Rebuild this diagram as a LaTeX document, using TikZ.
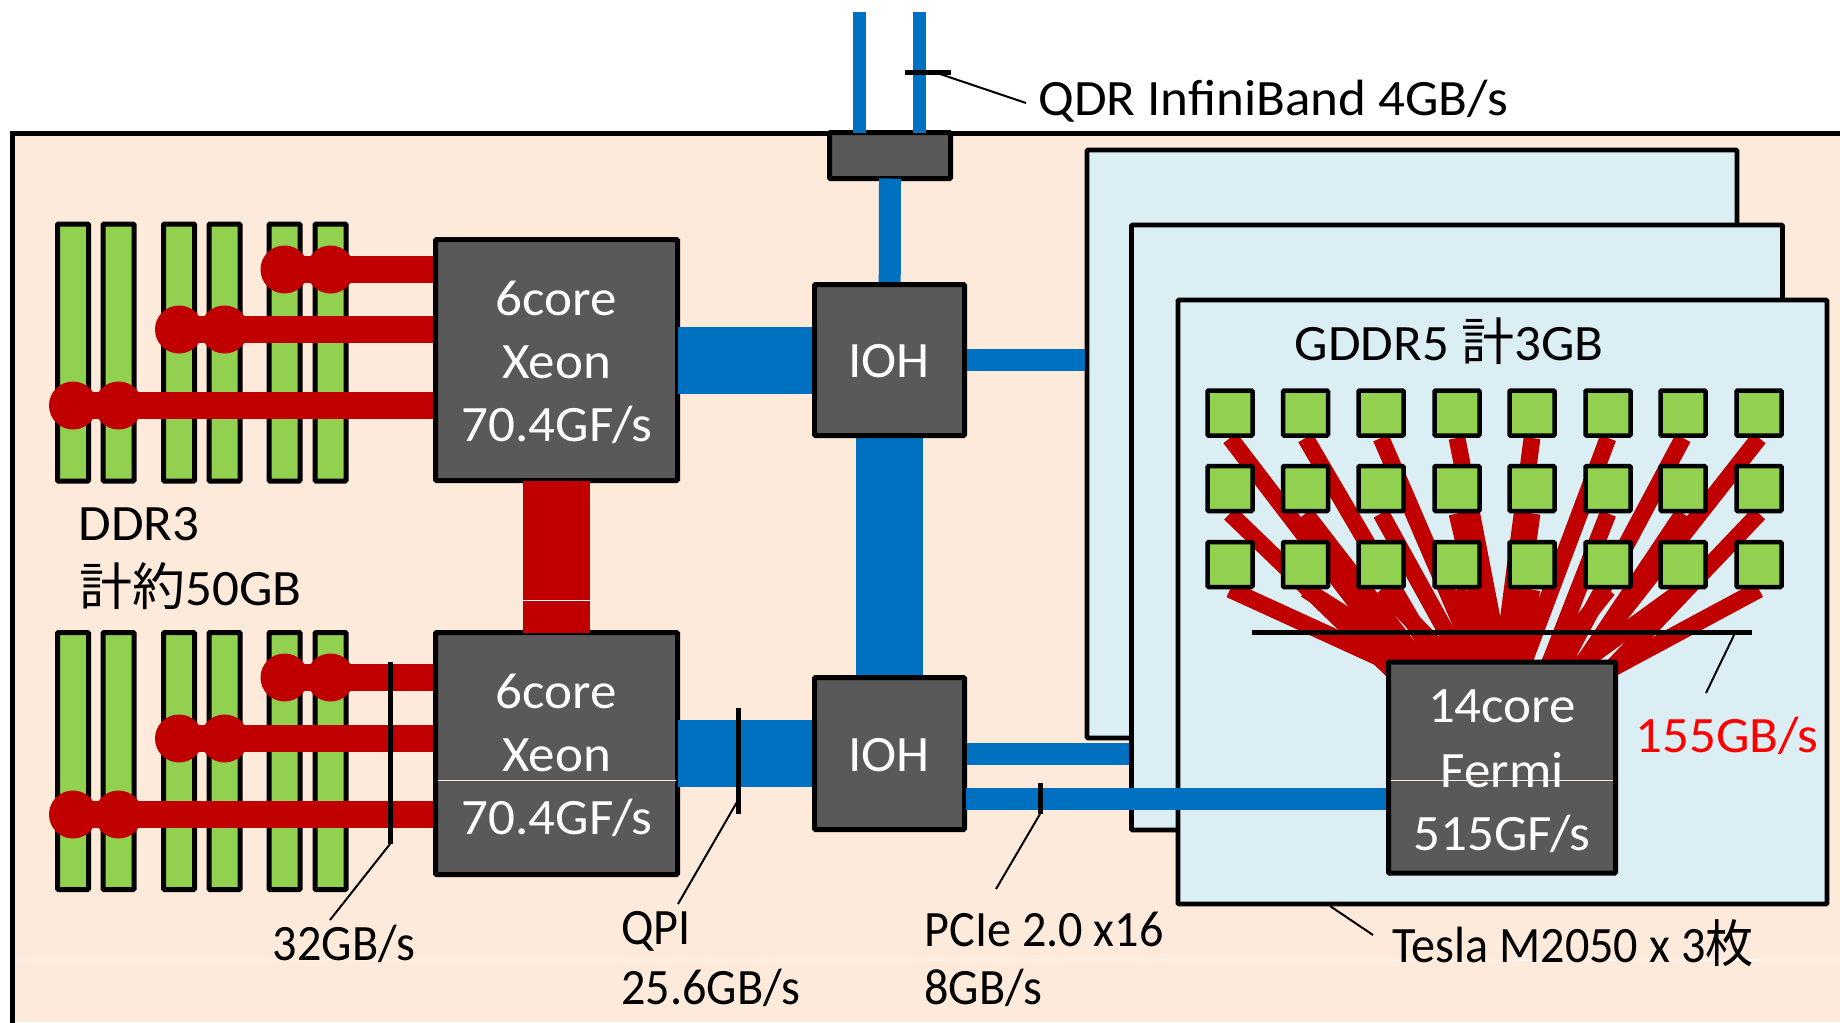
\documentclass[tikz,border=0pt]{standalone}
\usepackage{fontspec}
\setmainfont[FakeStretch=1.04]{Carlito}
\newfontfamily\narrowfont[FakeStretch=0.945]{Carlito}
\newfontfamily\cjk[FakeStretch=1.04]{Noto Sans CJK JP}
\newfontfamily\narrowcjk[FakeStretch=0.945]{Noto Sans CJK JP}
\definecolor{peach}{HTML}{FDEADA}
\definecolor{paleblue}{HTML}{DBEEF4}
\definecolor{chipgrey}{HTML}{595959}
\definecolor{memgreen}{HTML}{92D050}
\definecolor{linkred}{HTML}{C00000}
\definecolor{linkblue}{HTML}{0070C0}
\definecolor{seam}{HTML}{FFF4EC}
\pgfdeclarelayer{back}
\pgfdeclarelayer{mid}
\pgfsetlayers{back,mid,main}
\tikzset{
  px/.style 2 args={minimum width=#1*0.5pt,minimum height=#2*0.5pt},
  hw/.style={draw=black,line width=2.5pt,rounded corners=0.5pt,inner sep=0pt,outer sep=0pt},
  chip/.style={hw,fill=chipgrey},
  cardbox/.style={hw,fill=paleblue,line width=2.4pt},
  dimm/.style={hw,fill=memgreen,px={31}{257}},
  gddr/.style={hw,fill=memgreen,line width=2.25pt,px={45}{45}},
  dot/.style={circle,fill=linkred,inner sep=0pt,outer sep=0pt,minimum size=24pt},
  memlink/.style={linkred,line width=13.5pt},
  fan/.style={linkred,line width=8.4pt},
  qpi/.style={line width=33.5pt},
  pcie/.style={linkblue,line width=11pt},
  ib/.style={linkblue,line width=6.5pt},
  tick/.style={black,line width=2.5pt},
  leader/.style={black,line width=1pt},
  seamline/.style={seam,line width=0.6pt},
  chiptext/.style={text=white,font=\fontsize{25.5pt}{28pt}\selectfont,inner sep=0pt},
  lbl/.style={text=black,font=\fontsize{25.5pt}{28pt}\selectfont,inner sep=0pt},
  lblL/.style={lbl,anchor=west},
  lblN/.style={lblL,font=\fontsize{25.5pt}{28pt}\selectfont\narrowfont},
}
\begin{document}
\begin{tikzpicture}[x=0.5pt,y=-0.5pt]
\useasboundingbox (0,0) rectangle (1840,1022);
\begin{pgfonlayer}{back}
\fill[white] (0,0) rectangle (1840,1022);
% enclosure
\fill[peach] (12.5,133) rectangle (1840,1022);
\draw[black,line width=2.5pt] (12.5,1030) -- (12.5,133) -- (1850,133);
\draw[seamline] (15,960) -- (1840,960);
% Tesla cards
\node[cardbox,px={650}{588}] (card1) at (1412,444) {};
\node[cardbox,px={651}{605}] (card2) at (1457,527.5) {};
\node[cardbox,px={649}{604}] (card3) at (1502.5,602) {};
\end{pgfonlayer}
% DIMMs
\foreach \n/\x in {a/73,b/118.5,c/179,d/224.5,e/284.5,f/330.5}{
  \node[dimm] (top\n) at (\x,352.5) {};
  \node[dimm] (bot\n) at (\x,761) {};
}
% memory links, under the CPU borders
\coordinate (cpuA) at (556.5,360);
\coordinate (cpuB) at (556.5,753.5);
\foreach \bank/\ya/\yb/\yc in {t/269.5/329.5/405.5, u/677.5/738.5/814.5}{
  \node[dot] (\bank1) at (284.5,\ya) {};
  \node[dot] (\bank2) at (330.5,\ya) {};
  \node[dot] (\bank3) at (179,\yb) {};
  \node[dot] (\bank4) at (224.5,\yb) {};
  \node[dot] (\bank5) at (73,\yc) {};
  \node[dot] (\bank6) at (118.5,\yc) {};
  \coordinate (\bank E) at (480,\ya);
  \draw[memlink] (\bank1.center) -- (\bank E);
  \draw[memlink] (\bank3.center) -- (\bank3.center -| \bank E);
  \draw[memlink] (\bank5.center) -- (\bank5.center -| \bank E);
}
% chips
\node[chip,px={242}{241}] (cpu1) at (cpuA) {};
\node[chip,px={242}{242}] (cpu2) at (cpuB) {};
\node[chip,px={121}{46}] (sw) at (890,155.5) {};
\coordinate (iohA) at (889.5,360);
\coordinate (iohB) at (889.5,753.5);
% inter-chip links
\draw[qpi,linkred] (cpu1.south) -- (cpu2.north);
\draw[white,line width=0.6pt] ([xshift=-16.75pt,yshift=16pt]cpu2.north) -- ([xshift=16.75pt,yshift=16pt]cpu2.north);
\draw[qpi,linkblue] (cpu1.east) -- (iohA);
\draw[qpi,linkblue] (cpu2.east) -- (iohB);
\draw[qpi,linkblue] (iohA) -- (iohB);
\draw[linkblue,line width=11pt] (sw.south) -- (iohA);
\node[chip,px={150}{151}] (ioh1) at (iohA) {};
\node[chip,px={150}{152}] (ioh2) at (iohB) {};
% InfiniBand
\coordinate (ibA) at (859.5,12);
\coordinate (ibB) at (919.5,12);
\draw[ib] (ibA) -- (ibA |- sw.north);
\draw[ib] (ibB) -- (ibB |- sw.north);
% PCIe
\draw[pcie,shorten <=1.25pt,shorten >=1.2pt] (ioh1.east) -- (ioh1.east -| card1.west);
\draw[pcie,shorten <=1.25pt,shorten >=1.2pt] (ioh2.east) -- (ioh2.east -| card2.west);
% GDDR5 memory
\foreach \r/\y in {1/413,2/488.5,3/564.5}{
  \foreach \c/\x in {1/1230,2/1305.5,3/1381,4/1457,5/1532,6/1608,7/1683,8/1759}{
    \node[gddr] (sq-\r-\c) at (\x,\y) {};
  }
}
\node[chip,px={227}{211}] (fermi) at (1502,767.5) {};
\coordinate (pcieL) at (966,799);
\draw[pcie,shorten >=1.2pt] (pcieL) -- (pcieL -| fermi.west);
% GDDR5 fan-out, under the memory squares and Fermi
\begin{pgfonlayer}{mid}
\foreach \r/\c/\t in {1/1/1411,1/2/1444,1/3/1483,1/4/1503,1/5/1501,1/6/1519,1/7/1557,1/8/1573,
  2/1/1397,2/2/1430,2/3/1470,2/4/1495,2/5/1510,2/6/1545,2/7/1575,2/8/1605,
  3/1/1417,3/2/1440,3/3/1465,3/4/1490,3/5/1515,3/6/1540,3/7/1565,3/8/1600}{
  \draw[fan] ([yshift=-1.25pt]sq-\r-\c.south) -- ([xshift={(\t-1388.5)*0.5pt},yshift=-6.5pt]fermi.north west);
}
\end{pgfonlayer}
% seams in the chips
\draw[peach,line width=0.5pt] ([xshift=-55.5pt,yshift=-6.25pt]fermi.center) -- ([xshift=55.5pt,yshift=-6.25pt]fermi.center);
\draw[peach,line width=0.5pt] ([xshift=-59.5pt,yshift=-13.25pt]cpu2.center) -- ([xshift=59.5pt,yshift=-13.25pt]cpu2.center);
% ticks and leaders
\coordinate (t1a) at (1252,632); \coordinate (t1b) at (1752,632);
\coordinate (l1) at (1706,693);
\draw[tick] (t1a) -- (t1b);
\draw[leader] (1735,633) -- (l1);
\coordinate (t2a) at (390,662); \coordinate (t2b) at (390,844); \coordinate (l2) at (330,920);
\draw[tick] (t2a) -- (t2b);
\draw[leader] (t2b) -- (l2);
\coordinate (t3a) at (738,708); \coordinate (t3b) at (738,814); \coordinate (l3) at (678,904);
\draw[tick] (t3a) -- (t3b);
\draw[leader] (737,802) -- (l3);
\coordinate (t4a) at (905,72.5); \coordinate (t4b) at (951,72.5); \coordinate (l4) at (1026,103);
\draw[tick] (t4a) -- (t4b);
\draw[leader] (940,74) -- (l4);
\coordinate (t5a) at (1040,783); \coordinate (t5b) at (1040,814); \coordinate (l5) at (996,889);
\draw[tick] (t5a) -- (t5b);
\draw[leader] (t5b) -- (l5);
\coordinate (l6a) at (1330,906); \coordinate (l6b) at (1373,935);
\draw[leader] (l6a) -- (l6b);
% chip text
\node[chiptext] (c1a) at (556.5,298) {6core};
\node[chiptext] (c1b) at (556.5,362) {Xeon};
\node[chiptext] (c1c) at (557,425) {70.4GF/s};
\node[chiptext] (c2a) at (556.5,691) {6core};
\node[chiptext] (c2b) at (556.5,755) {Xeon};
\node[chiptext] (c2c) at (557,818) {70.4GF/s};
\node[chiptext] (i1) at (889,361) {IOH};
\node[chiptext] (i2) at (889,755) {IOH};
\node[chiptext] (f1) at (1502,706) {14core};
\node[chiptext] (f2) at (1502,770) {Fermi};
\node[chiptext] (f3) at (1502,834) {515GF/s};
% labels
\node[lbl] (gddrlbl) at (1449,341) {GDDR5 {\cjk 計}3GB};
\node[lblL] (ddr1) at (78,524.5) {DDR3};
\node[lblL] (ddr2) at (79,586) {{\cjk 計約}50GB};
\node[lblL] (qdr) at (1038,101) {QDR InfiniBand 4GB/s};
\node[lblN,anchor=center] (g32) at (344,944) {32GB/s};
\node[lblN] (qpi1) at (621,931) {QPI};
\node[lblN] (qpi2) at (621,988) {25.6GB/s};
\node[lblN] (pc1) at (924,929) {PCIe 2.0 x16};
\node[lblN] (pc2) at (924,988) {8GB/s};
\node[lblN] (tesla) at (1392,943) {Tesla M2050 x 3{\narrowcjk 枚}};
\node[lblL,text=red] (g155) at (1635,736) {155GB/s};
\end{tikzpicture}
\end{document}
